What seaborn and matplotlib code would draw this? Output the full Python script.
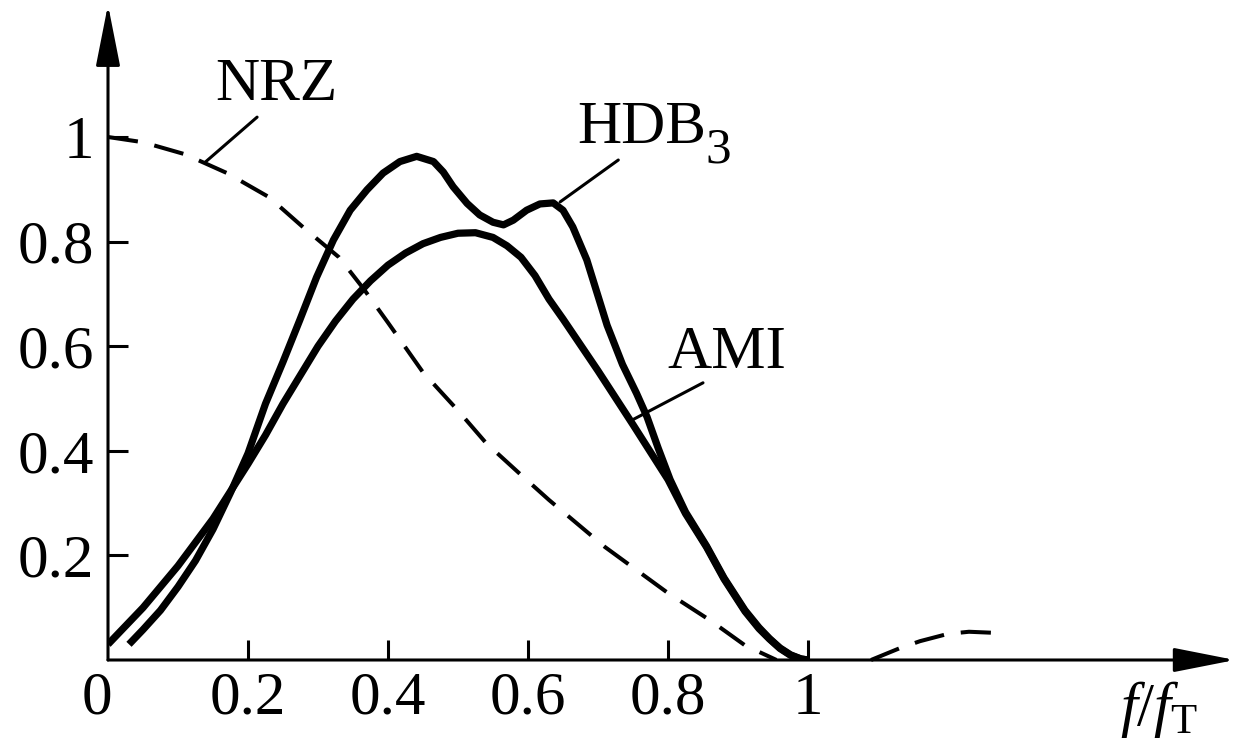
import matplotlib
matplotlib.use("Agg")
import matplotlib.pyplot as plt
import matplotlib.transforms as mtransforms
import seaborn as sns
import pandas as pd

# ---- data ----
nrz_x = [0.0, 0.05, 0.11, 0.17, 0.23, 0.28, 0.33, 0.365, 0.40, 0.45, 0.50, 0.54,
         0.59, 0.63, 0.71, 0.80, 0.86, 0.91, 0.955]
nrz_y = [1.0, 0.99, 0.967, 0.931, 0.885, 0.826, 0.77, 0.71, 0.645, 0.55, 0.477, 0.415,
         0.354, 0.306, 0.216, 0.128, 0.076, 0.028, 0.0]
nrz_side_x = [1.09, 1.13, 1.16, 1.20, 1.23, 1.265]
nrz_side_y = [0.0, 0.022, 0.036, 0.050, 0.054, 0.052]

ami_x = [0.0, 0.05, 0.10, 0.15, 0.20, 0.225, 0.25, 0.275, 0.30, 0.325, 0.35, 0.375,
         0.40, 0.425, 0.45, 0.475, 0.50, 0.525, 0.55, 0.57, 0.59, 0.61, 0.63, 0.65,
         0.70, 0.75, 0.80, 0.825, 0.855, 0.88, 0.91, 0.93, 0.945, 0.96, 0.975, 0.99, 1.0]
ami_y = [0.03, 0.10, 0.18, 0.27, 0.375, 0.43, 0.49, 0.545, 0.60, 0.648, 0.69, 0.725,
         0.755, 0.778, 0.796, 0.808, 0.816, 0.817, 0.808, 0.792, 0.77, 0.735, 0.69, 0.652,
         0.553, 0.45, 0.345, 0.28, 0.216, 0.155, 0.093, 0.06, 0.04, 0.022, 0.009, 0.002, 0.0]

hdb3_x = [0.03, 0.05, 0.075, 0.10, 0.125, 0.15, 0.175, 0.20, 0.225, 0.25, 0.274, 0.298,
          0.322, 0.346, 0.37, 0.393, 0.417, 0.441, 0.465, 0.479, 0.493, 0.513, 0.531,
          0.55, 0.565, 0.579, 0.598, 0.617, 0.636, 0.65, 0.664, 0.684, 0.713, 0.735,
          0.755, 0.77, 0.786, 0.803, 0.825, 0.855, 0.88, 0.91, 0.93, 0.945, 0.96, 0.975,
          0.99, 1.0]
hdb3_y = [0.03, 0.058, 0.095, 0.14, 0.19, 0.25, 0.32, 0.395, 0.49, 0.57, 0.65, 0.732,
          0.803, 0.86, 0.899, 0.931, 0.953, 0.963, 0.953, 0.933, 0.905, 0.873, 0.851,
          0.837, 0.832, 0.841, 0.86, 0.872, 0.874, 0.86, 0.828, 0.765, 0.64, 0.565,
          0.51, 0.465, 0.405, 0.345, 0.283, 0.218, 0.157, 0.095, 0.062, 0.041, 0.023, 0.01,
          0.002, 0.0]

x_ticks = [0, 0.2, 0.4, 0.6, 0.8, 1.0]
x_ticklabels = ["0", "0.2", "0.4", "0.6", "0.8", "1"]
y_ticks = [0.2, 0.4, 0.6, 0.8, 1.0]
y_ticklabels = ["0.2", "0.4", "0.6", "0.8", "1"]

# ---- style ----
sns.set_style("white")
plt.rcParams["font.family"] = ["Liberation Serif", "DejaVu Serif"]
plt.rcParams["text.color"] = "black"
plt.rcParams["mathtext.fontset"] = "custom"
plt.rcParams["mathtext.rm"] = "Liberation Serif"
plt.rcParams["mathtext.it"] = "Liberation Serif:italic"

W, H = 1235, 747
fig = plt.figure(figsize=(W / 100, H / 100), dpi=100)
ax = fig.add_axes([108 / W, 87 / H, 1127 / W, 652 / H])
ax.set_xlim(0, 1127 / 700)
ax.set_ylim(0, 652 / 523)
for s in ax.spines.values():
    s.set_visible(False)

FS = 44
curve_lw = 5.2
dash_lw = 2.9
dash_pat = (7.5, 4.2)

df_ami = pd.DataFrame({"x": ami_x, "y": ami_y})
df_hdb = pd.DataFrame({"x": hdb3_x, "y": hdb3_y})
df_nrz = pd.DataFrame({"x": nrz_x, "y": nrz_y})
df_side = pd.DataFrame({"x": nrz_side_x, "y": nrz_side_y})

sns.lineplot(data=df_ami, x="x", y="y", ax=ax, color="black", lw=curve_lw,
             errorbar=None, solid_capstyle="butt", solid_joinstyle="round")
sns.lineplot(data=df_hdb, x="x", y="y", ax=ax, color="black", lw=curve_lw,
             errorbar=None, solid_capstyle="butt", solid_joinstyle="round")
sns.lineplot(data=df_nrz, x="x", y="y", ax=ax, color="black", lw=dash_lw,
             errorbar=None, linestyle="--")
ax.lines[-1].set_dashes(dash_pat)
sns.lineplot(data=df_side, x="x", y="y", ax=ax, color="black", lw=dash_lw,
             errorbar=None, linestyle="--", clip_on=False)
ax.lines[-1].set_dashes(dash_pat)

ax.set_xlabel("")
ax.set_ylabel("")

# axes with arrows
arrow_kw = dict(arrowstyle="-|>,head_length=38,head_width=7.5", color="black",
                lw=2.2, mutation_scale=1, shrinkA=0, shrinkB=0)
ax.annotate("", xy=(1, 0), xytext=(0, 0), xycoords="axes fraction",
            textcoords="axes fraction", arrowprops=arrow_kw, annotation_clip=False)
ax.annotate("", xy=(0, 1.005), xytext=(0, 0), xycoords="axes fraction",
            textcoords="axes fraction", arrowprops=arrow_kw, annotation_clip=False)

# ticks
ax.set_xticks(x_ticks)
ax.set_xticklabels(x_ticklabels)
ax.set_yticks(y_ticks)
ax.set_yticklabels(y_ticklabels)
ax.tick_params(axis="both", direction="in", length=14.5, width=2.2, color="black",
               labelsize=FS, labelcolor="black")
ax.tick_params(axis="x", pad=8)
ax.tick_params(axis="y", pad=10)
ax.tick_params(axis="x", which="both", bottom=True, top=False)
ax.tick_params(axis="y", which="both", left=True, right=False)
ax.xaxis.get_major_ticks()[0].tick1line.set_visible(False)
lbl0 = ax.get_xticklabels()[0]
lbl0.set_transform(lbl0.get_transform() +
                   mtransforms.ScaledTranslation(-11 / 100, 0, fig.dpi_scale_trans))

# labels and leader lines
ax.text(0.241, 1.071, "NRZ", fontsize=FS, ha="center", va="baseline", color="black")
ax.plot([0.213, 0.139], [1.038, 0.952], color="black", lw=2.2)
ax.text(0.67, 0.989, "HDB", fontsize=FS, ha="left", va="baseline", color="black")
ax.text(0.853, 0.952, "3", fontsize=37, ha="left", va="baseline", color="black")
ax.plot([0.729, 0.646], [0.956, 0.876], color="black", lw=2.2)
ax.text(0.799, 0.558, "AMI", fontsize=FS, ha="left", va="baseline", color="black")
ax.plot([0.85, 0.749], [0.53, 0.459], color="black", lw=2.2)
ax.text(1.446, -0.124, r"$f/f_{\mathrm{T}}$", fontsize=FS, ha="left", va="baseline",
        clip_on=False, color="black")

fig.savefig("out.png", dpi=100, facecolor="white")
